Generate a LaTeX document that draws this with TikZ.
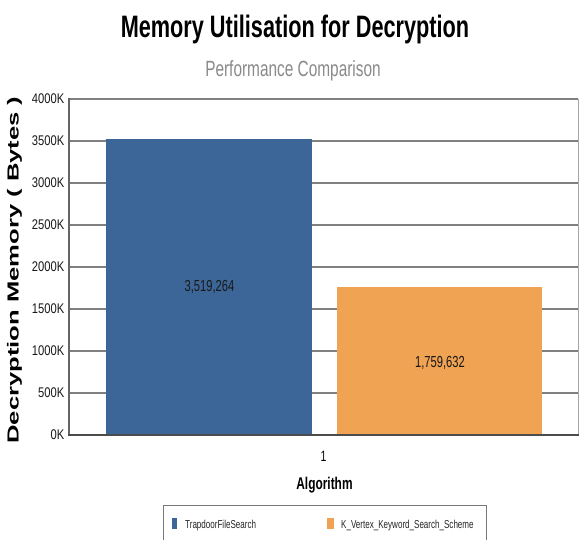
\documentclass[tikz,border=0pt]{standalone}
\usepackage{fontspec}
\setmainfont{Liberation Sans}
\newfontfamily\cond[FakeStretch=0.70]{Liberation Sans}
\newfontfamily\tickf[FakeStretch=0.80]{Liberation Sans}
\newfontfamily\ylabf[FakeStretch=1.60]{Liberation Sans}
\definecolor{barblue}{RGB}{60,102,152}
\definecolor{barorange}{RGB}{240,163,82}
\definecolor{gridgray}{RGB}{128,128,128}
\definecolor{subgray}{RGB}{138,138,138}
\definecolor{legframe}{RGB}{120,120,120}
\tikzset{
  gridline/.style={draw=gridgray, line width=1.4pt},
  ticklabel/.style={anchor=east, inner sep=0pt, font=\tickf\fontsize{14}{14}\selectfont, text=black!90},
  barlabel/.style={inner sep=0pt, font=\cond\fontsize{16}{16}\selectfont, text=black!90},
  legtext/.style={anchor=base west, inner sep=0pt, font=\cond\fontsize{11.5}{11.5}\selectfont, text=black!85},
}
\begin{document}
\begin{tikzpicture}[x=1pt,y=-1pt]
\useasboundingbox (0,0) rectangle (579,539);
\fill[white] (0,0) rectangle (579,539);
% title
\node[anchor=base, inner sep=0pt, font=\cond\bfseries\fontsize{31}{31}\selectfont] (title) at (295,37.5) {Memory Utilisation for Decryption};
\node[anchor=base, inner sep=0pt, font=\cond\fontsize{22}{22}\selectfont, text=subgray] (subtitle) at (293,76) {Performance Comparison};
% gridlines
\foreach \k in {1,...,8} {
  \draw[gridline] (68,{435-42*\k}) -- (578,{435-42*\k});
}
\draw[draw=gridgray!70, line width=1pt] (578,99) -- (578,435);
% bars
\fill[barblue] (106,139.4) rectangle (312,435);
\fill[barorange] (337,287.2) rectangle (542,435);
% axes
\draw[draw=black!60, line width=1.5pt] (69,98.3) -- (69,435);
\draw[draw=black!70, line width=2pt] (68,435) -- (578.5,435);
% tick labels
\foreach \k/\lab in {0/0K,1/500K,2/1000K,3/1500K,4/2000K,5/2500K,6/3000K,7/3500K,8/4000K} {
  \node[ticklabel] (tick\k) at (64.5,{435-42*\k}) {\lab};
}
% bar labels
\node[barlabel] (lblA) at (209.5,287) {3,519,264};
\node[barlabel] (lblB) at (440,363) {1,759,632};
% category label and axis titles
\node[inner sep=0pt, font=\cond\fontsize{15}{15}\selectfont] (cat) at (323.5,456.5) {1};
\node[anchor=base, inner sep=0pt, font=\cond\bfseries\fontsize{17}{17}\selectfont] (xtitle) at (324.5,489) {Algorithm};
\node[rotate=90, inner sep=0pt, font=\ylabf\bfseries\fontsize{16}{16}\selectfont] (ytitle) at (14.5,270) {Decryption Memory ( Bytes )};
% legend
\draw[draw=legframe, line width=0.8pt] (163,545) -- (163,505) -- (486,505) -- (486,545);
\fill[barblue] (172,518) rectangle (177,529);
\node[legtext] (legA) at (185,528) {TrapdoorFileSearch};
\fill[barorange] (327,518) rectangle (334,529);
\node[legtext] (legB) at (341,528) {K\_Vertex\_Keyword\_Search\_Scheme};
\end{tikzpicture}
\end{document}
